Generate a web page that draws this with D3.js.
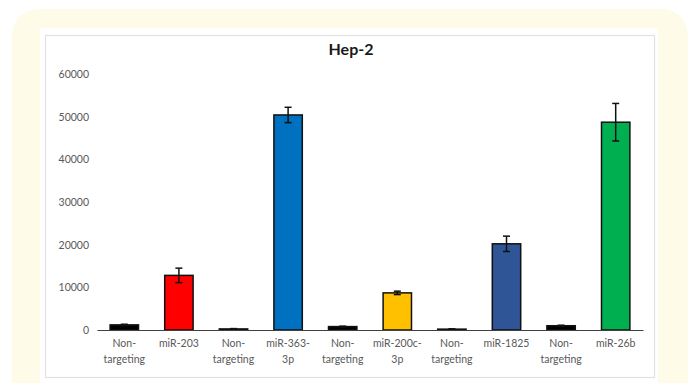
<!DOCTYPE html>
<html>
<head>
<meta charset="utf-8">
<script src="https://cdn.jsdelivr.net/npm/d3@7"></script>
<style>
  html, body { margin: 0; padding: 0; background: #ffffff; }
  svg { display: block; }
</style>
</head>
<body>
<svg id="chart" width="690" height="383"></svg>
<script>
// Hep-2 expression by construct
const categories = [
  ["Non-", "targeting"], ["miR-203"], ["Non-", "targeting"], ["miR-363-", "3p"],
  ["Non-", "targeting"], ["miR-200c-", "3p"], ["Non-", "targeting"], ["miR-1825"],
  ["Non-", "targeting"], ["miR-26b"]
];
const values = [1200, 12800, 250, 50400, 800, 8700, 200, 20200, 1000, 48700];
const errors = [150, 1700, 80, 1800, 100, 400, 60, 1800, 120, 4400];
const yTicks = [0, 10000, 20000, 30000, 40000, 50000, 60000];

const barColors = ["#000000", "#ff0000", "#000000", "#0070c0", "#000000",
                   "#ffc000", "#000000", "#2f5597", "#000000", "#00b050"];

const svg = d3.select("#chart");

// Card background
svg.append("rect")
  .attr("x", 12).attr("y", 9).attr("width", 676).attr("height", 400)
  .attr("rx", 26).attr("fill", "#fffbe9");

// Chart area
svg.append("rect")
  .attr("x", 40).attr("y", 28).attr("width", 618).attr("height", 360)
  .attr("fill", "#ffffff");
svg.append("rect")
  .attr("x", 45.5).attr("y", 35.5).attr("width", 609).attr("height", 342)
  .attr("fill", "none").attr("stroke", "#e2e2e2").attr("stroke-width", 1.2);

const plot = { left: 97, right: 643, top: 74, bottom: 330 };

const x = d3.scaleBand()
  .domain(d3.range(categories.length))
  .range([plot.left, plot.right])
  .paddingInner(0.48).paddingOuter(0.24);

const y = d3.scaleLinear()
  .domain([0, 60000])
  .range([plot.bottom, plot.top]);

const font = "Lato, 'Open Sans', sans-serif";

// Title
svg.append("text")
  .attr("x", 351).attr("y", 55)
  .attr("text-anchor", "middle")
  .attr("font-family", font)
  .attr("font-weight", "bold")
  .attr("font-size", 16)
  .attr("fill", "#1a1a1a")
  .text("Hep-2");

// Y axis (labels only)
const yAxis = d3.axisLeft(y).tickValues(yTicks).tickFormat(d3.format("d")).tickSize(0).tickPadding(0);
const gy = svg.append("g")
  .attr("transform", `translate(89,0)`)
  .call(yAxis);
gy.select(".domain").remove();
gy.selectAll("text")
  .attr("font-family", font)
  .attr("font-size", 10.5)
  .attr("fill", "#595959");

// Bars
svg.append("g").selectAll("rect")
  .data(values)
  .join("rect")
  .attr("x", (d, i) => x(i))
  .attr("width", x.bandwidth())
  .attr("y", d => y(d))
  .attr("height", d => y(0) - y(d))
  .attr("fill", (d, i) => barColors[i])
  .attr("stroke", "#111111")
  .attr("stroke-width", 1.5);

// Error bars
const cap = 3.5;
const eb = svg.append("g").attr("stroke", "#111111").attr("stroke-width", 1.5);
values.forEach((v, i) => {
  const cx = x(i) + x.bandwidth() / 2;
  const lo = y(v - errors[i]), hi = y(v + errors[i]);
  eb.append("line").attr("x1", cx).attr("x2", cx).attr("y1", lo).attr("y2", hi);
  eb.append("line").attr("x1", cx - cap).attr("x2", cx + cap).attr("y1", hi).attr("y2", hi);
  eb.append("line").attr("x1", cx - cap).attr("x2", cx + cap).attr("y1", lo).attr("y2", lo);
});

// X axis
const xAxis = d3.axisBottom(x).tickSize(0).tickFormat("");
const gx = svg.append("g")
  .attr("transform", `translate(0,${plot.bottom})`)
  .call(xAxis);
gx.select(".domain").attr("stroke", "#404040").attr("stroke-width", 1);

// Category labels
const labels = svg.append("g")
  .attr("font-family", font)
  .attr("font-size", 10.5)
  .attr("fill", "#595959")
  .attr("text-anchor", "middle");
categories.forEach((lines, i) => {
  const t = labels.append("text")
    .attr("x", x(i) + x.bandwidth() / 2)
    .attr("y", plot.bottom + 17);
  lines.forEach((line, j) => {
    t.append("tspan")
      .attr("x", x(i) + x.bandwidth() / 2)
      .attr("dy", j === 0 ? 0 : 16)
      .text(line);
  });
});
</script>
</body>
</html>
